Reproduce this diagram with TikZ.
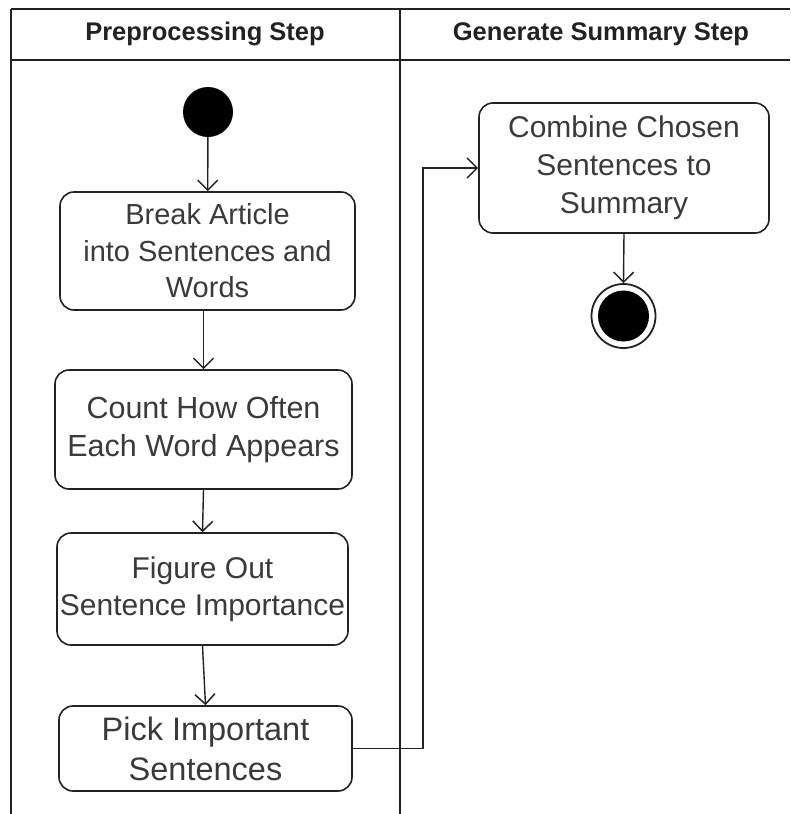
\documentclass[tikz,border=0pt]{standalone}
\usepackage{fontspec}
\setmainfont{Liberation Sans}
\usetikzlibrary{arrows.meta}
\definecolor{linegray}{HTML}{222222}
\definecolor{textgray}{HTML}{3A3A3A}

\begin{document}
\begin{tikzpicture}[x=1pt,y=-1pt,
    lane/.style={line width=2.4pt, draw=linegray},
    head/.style={font=\fontsize{25.5}{30}\selectfont\bfseries, text=linegray},
    act/.style={draw=linegray, line width=1.6pt, rounded corners=14pt, align=center,
        text=textgray, font=\fontsize{29}{36.5}\selectfont, inner sep=0pt},
    flow/.style={draw=linegray, line width=1.4pt, -{Straight Barb[length=10pt,width=20pt,line width=1.5pt]}}]
    \useasboundingbox (0,0) rectangle (790,814);
    % swimlanes
    \draw[lane] (11,9) -- (790,9);
    \draw[lane] (11,60) -- (790,60);
    \draw[lane] (11,9) -- (11,814);
    \draw[lane] (400,9) -- (400,814);
    \node[head] (preHead) at (205,34) {Preprocessing Step};
    \node[head] (sumHead) at (601,34) {Generate Summary Step};
    % activities
    \node[circle, fill=black, minimum size=50pt, inner sep=0pt] (start) at (208,112) {};
    \node[act, minimum width=295pt, minimum height=118pt] (break) at (207.5,251) {Break Article\\into Sentences and\\Words};
    \node[act, minimum width=297pt, minimum height=119pt, font=\fontsize{30.5}{38}\selectfont] (count) at (203.5,429.5) {Count How Often\\Each Word Appears};
    \node[act, minimum width=291pt, minimum height=112pt, font=\fontsize{30}{37}\selectfont] (figure) at (202.5,589) {Figure Out\\Sentence Importance};
    \node[act, minimum width=293pt, minimum height=85pt, font=\fontsize{32.5}{40}\selectfont] (pick) at (205.5,748.5) {Pick Important\\Sentences};
    \node[act, minimum width=290pt, minimum height=130pt, font=\fontsize{30}{38}\selectfont] (combine) at (624,168) {Combine Chosen\\Sentences to\\Summary};
    \node[circle, draw=linegray, line width=1.8pt, minimum size=64pt, inner sep=0pt] (finish) at (623.5,316) {};
    \node[circle, fill=black, minimum size=51pt, inner sep=0pt] (finishDot) at (finish.center) {};
    \coordinate (bend) at (423,168);
    % transitions
    \draw[flow] (start) -- (break);
    \draw[flow] (count.north |- break.south) -- (count.north);
    \draw[flow] (count.south) -- (figure.north);
    \draw[flow] (figure.south) -- (pick.north);
    \draw[flow] (pick.east) -| (bend) -- (combine.west);
    \draw[flow] (combine.south) -- (finish.north);
\end{tikzpicture}
\end{document}
